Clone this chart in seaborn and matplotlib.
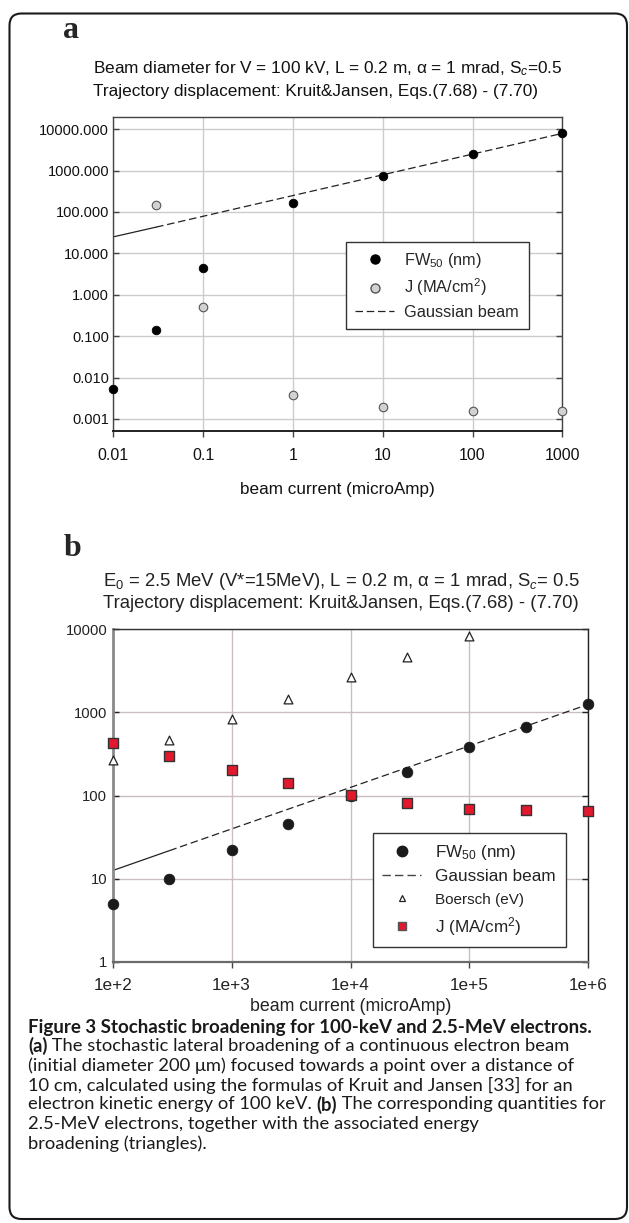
import numpy as np
import pandas as pd
import matplotlib
matplotlib.use("Agg")
import matplotlib.pyplot as plt
import seaborn as sns
from matplotlib.patches import FancyBboxPatch
from matplotlib.lines import Line2D
from matplotlib.transforms import IdentityTransform

# ---------------- data: panel a (100 keV) ----------------
a_current = [0.01, 0.03, 0.1, 1, 10, 100, 1000]
a_fw50 = [0.0054, 0.143, 4.5, 165, 756, 2570, 8300]
a_j_current = [0.03, 0.1, 1, 10, 100, 1000]
a_j = [145, 0.5, 0.0038, 0.00192, 0.00156, 0.00154]
a_gauss_current = [0.01, 0.03, 1000]
a_gauss = [25, 43, 7900]
a_xticks = [0.01, 0.1, 1, 10, 100, 1000]
a_xticklabels = ["0.01", "0.1", "1", "10", "100", "1000"]
a_yticks = [0.001, 0.01, 0.1, 1, 10, 100, 1000, 10000]
a_yticklabels = ["0.001", "0.010", "0.100", "1.000", "10.000", "100.000", "1000.000", "10000.000"]

# ---------------- data: panel b (2.5 MeV) ----------------
b_current = [1e2, 3e2, 1e3, 3e3, 1e4, 3e4, 1e5, 3e5, 1e6]
b_fw50 = [4.9, 10, 22.3, 46, 98, 192, 380, 671, 1248]
b_boersch_current = [1e2, 3e2, 1e3, 3e3, 1e4, 3e4, 1e5]
b_boersch = [266, 464, 837, 1445, 2660, 4680, 8300]
b_j = [430, 297, 200, 142, 101, 80.7, 69.7, 66.5, 65.3]
b_gauss_current = [1e2, 3e2, 1e6]
b_gauss = [12.5, 21.7, 1250]
b_xticks = [1e2, 1e3, 1e4, 1e5, 1e6]
b_xticklabels = ["1e+2", "1e+3", "1e+4", "1e+5", "1e+6"]
b_yticks = [1, 10, 100, 1000, 10000]
b_yticklabels = ["1", "10", "100", "1000", "10000"]

sns.set_theme(style="white")
plt.rcParams['font.family'] = ['Liberation Sans', 'DejaVu Sans']
plt.rcParams['mathtext.fontset'] = 'custom'
plt.rcParams['mathtext.rm'] = 'Liberation Sans'
plt.rcParams['mathtext.it'] = 'Liberation Sans:italic'
plt.rcParams['mathtext.bf'] = 'Liberation Sans:bold'

W, H = 629, 1223
fig = plt.figure(figsize=(W / 100, H / 100), dpi=100)
fig.patch.set_facecolor('white')


def px_axes(left, top, right, bottom):
    return fig.add_axes([left / W, 1 - bottom / H, (right - left) / W, (bottom - top) / H])


def ftext(x, y, s, **kw):
    return fig.text(x / W, 1 - y / H, s, **kw)


# ---------------- panel a ----------------
ax = px_axes(113.3, 116.7, 562.3, 431)
ax.set_xscale('log')
ax.set_yscale('log')
ax.set_xlim(0.01, 1000)
ax.set_ylim(5.1e-4, 2.0e4)
ax.set_xticks(a_xticks)
ax.set_xticklabels(a_xticklabels)
ax.set_yticks(a_yticks)
ax.set_yticklabels(a_yticklabels)
ax.minorticks_off()
ax.grid(True, which='major', color='#cccccc', lw=1.0)
ax.set_axisbelow(True)

sns.lineplot(x=a_gauss_current[:2], y=a_gauss[:2], ax=ax, color='#222222', lw=0.9,
             estimator=None, sort=False)
sns.lineplot(x=a_gauss_current[1:], y=a_gauss[1:], ax=ax, color='#222222', lw=0.9,
             linestyle=(0, (6, 3)), estimator=None, sort=False)
sns.scatterplot(x=a_current, y=a_fw50, ax=ax, color='black', s=38, edgecolor='black',
                linewidth=0.6, clip_on=False, zorder=5)
sns.scatterplot(x=a_j_current, y=a_j, ax=ax, color='#d2d2d2', s=38, edgecolor='#555555',
                linewidth=0.8, clip_on=False, zorder=5)

for side in ['top', 'right', 'left']:
    ax.spines[side].set_color('#444444')
    ax.spines[side].set_linewidth(1.0)
ax.spines['bottom'].set_color('#222222')
ax.spines['bottom'].set_linewidth(1.4)
ax.tick_params(axis='y', which='major', direction='in', length=4, width=1, color='#444444',
               left=True, right=True, labelsize=10.5, pad=3, labelcolor='#111111')
ax.tick_params(axis='x', which='major', direction='out', length=4, width=1, color='#444444',
               bottom=True, labelsize=11.5, pad=8, labelcolor='#111111')
ax.set_xlabel('beam current (microAmp)', fontsize=12.3, labelpad=14, color='#111111')
ax.set_ylabel('')

hand_a = [
    Line2D([], [], ls='none', marker='o', ms=6.5, mfc='black', mec='black'),
    Line2D([], [], ls='none', marker='o', ms=6.5, mfc='#d2d2d2', mec='#555555'),
    Line2D([], [], color='#222222', lw=0.9, ls=(0, (6, 3))),
]
lab_a = ['FW$_{50}$ (nm)', 'J (MA/cm$^2$)', 'Gaussian beam']
leg = ax.legend(hand_a, lab_a, loc='upper left', bbox_to_anchor=(0.518, 0.33, 0.407, 0.2723),
                mode='expand', borderaxespad=0, frameon=True, fancybox=False,
                fontsize=11.8, handlelength=2.4, handletextpad=0.6, labelspacing=0.42,
                borderpad=0.55)
leg.get_frame().set_edgecolor('#333333')
leg.get_frame().set_linewidth(1.0)
leg.get_frame().set_alpha(1)

ftext(63, 31, 'a', fontsize=23, fontweight='bold', family=['Liberation Serif', 'DejaVu Serif'],
      va='center', ha='left')
ftext(93, 68.3, 'Beam diameter for V = 100 kV, L = 0.2 m, α = 1 mrad, S$_c$=0.5',
      fontsize=12.4, va='center', ha='left', color='#111111')
ftext(93, 91.7, 'Trajectory displacement: Kruit&Jansen, Eqs.(7.68) - (7.70)',
      fontsize=12.4, va='center', ha='left', color='#111111')

# ---------------- panel b ----------------
bx = px_axes(112.7, 629.3, 588.3, 961.7)
bx.set_xscale('log')
bx.set_yscale('log')
bx.set_xlim(1e2, 1e6)
bx.set_ylim(1, 10000)
bx.set_xticks(b_xticks)
bx.set_xticklabels(b_xticklabels)
bx.set_yticks(b_yticks)
bx.set_yticklabels(b_yticklabels)
bx.minorticks_off()
bx.grid(True, which='major', color='#cbbebe', lw=1.0)
bx.set_axisbelow(True)

sns.lineplot(x=b_gauss_current[:2], y=b_gauss[:2], ax=bx, color='#222222', lw=0.9,
             estimator=None, sort=False)
sns.lineplot(x=b_gauss_current[1:], y=b_gauss[1:], ax=bx, color='#222222', lw=0.9,
             linestyle=(0, (6, 3)), estimator=None, sort=False)
sns.scatterplot(x=b_current, y=b_fw50, ax=bx, color='#1a1a1a', s=60, edgecolor='#1a1a1a',
                linewidth=0.5, clip_on=False, zorder=5)
sns.scatterplot(x=b_boersch_current, y=b_boersch, ax=bx, marker='^', color='white', s=40,
                edgecolor='#222222', linewidth=0.9, clip_on=False, zorder=5)
sns.scatterplot(x=b_current, y=b_j, ax=bx, marker='s', color='#e3182d', s=45,
                edgecolor='#333333', linewidth=1.0, clip_on=False, zorder=6)

bx.spines['left'].set_color('#8a8a8a')
bx.spines['left'].set_linewidth(2.0)
bx.spines['bottom'].set_color('#6a6a6a')
bx.spines['bottom'].set_linewidth(1.6)
bx.spines['top'].set_color('#333333')
bx.spines['top'].set_linewidth(1.0)
bx.spines['right'].set_color('#222222')
bx.spines['right'].set_linewidth(1.0)
bx.tick_params(axis='y', which='major', direction='in', length=4, width=1, color='#222222',
               left=True, right=True, labelsize=10.6, pad=4, labelcolor='#222222')
bx.tick_params(axis='x', which='major', direction='out', length=4, width=1, color='#444444',
               bottom=True, labelsize=12.3, pad=8, labelcolor='#222222')
bx.set_xlabel('beam current (microAmp)', fontsize=12.8, labelpad=3, color='#222222')
bx.set_ylabel('')

hand_b = [
    Line2D([], [], ls='none', marker='o', ms=7.5, mfc='#1a1a1a', mec='#1a1a1a'),
    Line2D([], [], color='#444444', lw=1.0, ls=(0, (6, 3))),
    Line2D([], [], ls='none', marker='^', ms=5, mfc='white', mec='#222222', mew=0.9),
    Line2D([], [], ls='none', marker='s', ms=5.5, mfc='#e3182d', mec='#555555', mew=1.0),
]
lab_b = ['FW$_{50}$ (nm)', 'Gaussian beam', 'Boersch (eV)', 'J (MA/cm$^2$)']
legb = bx.legend(hand_b, lab_b, loc='upper left', bbox_to_anchor=(0.5467, 0.0523, 0.407, 0.334),
                 mode='expand', borderaxespad=0, frameon=True, fancybox=False,
                 fontsize=12.3, handlelength=2.3, handletextpad=0.8, labelspacing=0.45,
                 borderpad=0.55)
legb.get_frame().set_edgecolor('#333333')
legb.get_frame().set_linewidth(1.0)
legb.get_frame().set_alpha(1)
for t in legb.get_texts():
    t.set_color('#222222')
legb.get_texts()[2].set_fontsize(11)

ftext(64, 549, 'b', fontsize=23, fontweight='bold', family=['Liberation Serif', 'DejaVu Serif'],
      va='center', ha='left')
ftext(103.3, 581.7, 'E$_0$ = 2.5 MeV (V*=15MeV), L = 0.2 m, α = 1 mrad, S$_c$= 0.5',
      fontsize=13.3, va='center', ha='left', color='#222222')
ftext(103.3, 603.3, 'Trajectory displacement: Kruit&Jansen, Eqs.(7.68) - (7.70)',
      fontsize=13.3, va='center', ha='left', color='#222222')

# ---------------- caption ----------------
cap_font = ['Lato', 'DejaVu Sans']
cap_size = 13.2
cap_col = '#1a1a1a'
ftext(28, 1027, 'Figure 3 Stochastic broadening for 100-keV and 2.5-MeV electrons.',
      fontsize=cap_size + 0.3, fontweight='bold', family=cap_font, va='center', ha='left',
      color=cap_col)

cap_lines = [
    [('(a)', True), (' The stochastic lateral broadening of a continuous electron beam', False)],
    [('(initial diameter 200 μm) focused towards a point over a distance of', False)],
    [('10 cm, calculated using the formulas of Kruit and Jansen [33] for an', False)],
    [('electron kinetic energy of 100 keV. ', False), ('(b)', True),
     (' The corresponding quantities for', False)],
    [('2.5-MeV electrons, together with the associated energy', False)],
    [('broadening (triangles).', False)],
]
cap_y = [1046, 1065.5, 1085, 1104.5, 1124, 1143.5]
renderer = fig.canvas.get_renderer()
for parts, yy in zip(cap_lines, cap_y):
    xpix = 28
    for txt, bold in parts:
        t = ftext(xpix, yy, txt, fontsize=cap_size, fontweight='bold' if bold else 'normal',
                  family=cap_font, va='center', ha='left', color=cap_col)
        bb = t.get_window_extent(renderer=renderer)
        xpix = bb.x1

# ---------------- outer rounded frame ----------------
frame = FancyBboxPatch((9.5, 4), 617.5, 1205.5, boxstyle='round,pad=0,rounding_size=12',
                       transform=IdentityTransform(), fill=False, lw=1.5, ec='#1a1a1a')
fig.add_artist(frame)

fig.savefig('out.png', dpi=100, facecolor='white')
